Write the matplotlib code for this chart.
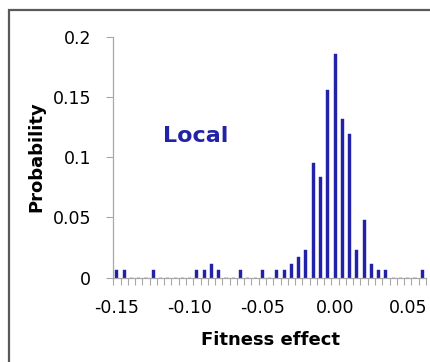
import matplotlib
matplotlib.use("Agg")
import matplotlib.pyplot as plt
from matplotlib.patches import Rectangle
from matplotlib.ticker import FixedLocator

# Fitness-effect bins (centers), 0.005 wide
bins = [-0.150, -0.145, -0.140, -0.135, -0.130, -0.125, -0.120, -0.115, -0.110, -0.105,
        -0.100, -0.095, -0.090, -0.085, -0.080, -0.075, -0.070, -0.065, -0.060, -0.055,
        -0.050, -0.045, -0.040, -0.035, -0.030, -0.025, -0.020, -0.015, -0.010, -0.005,
        0.000, 0.005, 0.010, 0.015, 0.020, 0.025, 0.030, 0.035, 0.040, 0.045,
        0.050, 0.055, 0.060]
probability = [0.006, 0.006, 0.0, 0.0, 0.0, 0.006, 0.0, 0.0, 0.0, 0.0,
               0.0, 0.006, 0.006, 0.0117, 0.006, 0.0, 0.0, 0.006, 0.0, 0.0,
               0.006, 0.0, 0.006, 0.006, 0.0117, 0.0175, 0.0234, 0.0953, 0.0836, 0.1555,
               0.1857, 0.1313, 0.1195, 0.0234, 0.0477, 0.0117, 0.006, 0.006, 0.0, 0.0,
               0.0, 0.0, 0.006]
xtick_labels = ["-0.15", "-0.10", "-0.05", "0.00", "0.05"]
xtick_values = [-0.15, -0.10, -0.05, 0.00, 0.05]
ytick_values = [0, 0.05, 0.1, 0.15, 0.2]
ytick_labels = ["0", "0.05", "0.1", "0.15", "0.2"]

BAR = "#2222A8"
GRID = "#A8A8A8"
W, H = 431, 362

plt.rcParams['font.family'] = ['DejaVu Sans']
fig = plt.figure(figsize=(W / 100, H / 100), dpi=100)
fig.patch.set_facecolor("white")

# outer chart border (cropped at right/bottom)
fig.patches.append(Rectangle((9 / W, -0.05), 1.2, 1 - 10 / H + 0.05,
                             transform=fig.transFigure, fill=False,
                             edgecolor="#595959", linewidth=1.6))

ax = fig.add_axes([113.3 / W, 1 - 277.7 / H, (425.9 - 113.3) / W, (277.7 - 36.7) / H])
pos = list(range(len(bins)))
ax.bar(pos, probability, width=0.42, color=BAR, edgecolor=BAR, linewidth=0.3)

ax.set_xlim(-0.5, len(bins) - 0.5)
ax.set_ylim(0, 0.2)

# x labels at category positions
label_pos = [bins.index(min(bins, key=lambda b: abs(b - v))) for v in xtick_values]
ax.set_xticks(label_pos)
ax.set_xticklabels(xtick_labels, fontsize=12.5)
ax.xaxis.set_minor_locator(FixedLocator([p - 0.5 for p in pos] + [len(bins) - 0.5]))
ax.tick_params(axis="x", which="major", length=0, pad=15)
ax.tick_params(axis="x", which="minor", length=5, width=0.8, color=GRID, direction="out")

ax.set_yticks(ytick_values)
ax.set_yticklabels(ytick_labels, fontsize=12.5)
ax.tick_params(axis="y", which="major", length=5, width=0.8, color=GRID, pad=11)

for s in ["top", "right"]:
    ax.spines[s].set_visible(False)
for s in ["left", "bottom"]:
    ax.spines[s].set_color(GRID)
    ax.spines[s].set_linewidth(0.9)

fig.text(195.3 / W, 1 - 142.3 / H, "Local", color=BAR, fontsize=16,
         fontweight="bold", ha="center", va="baseline")
fig.text(36.7 / W, 1 - 156.7 / H, "Probability", fontsize=13, fontweight="bold",
         rotation=90, ha="center", va="center")
fig.text(271 / W, 1 - 340 / H, "Fitness effect", fontsize=13, fontweight="bold",
         ha="center", va="center")

fig.savefig("out.png", dpi=100, facecolor="white")
